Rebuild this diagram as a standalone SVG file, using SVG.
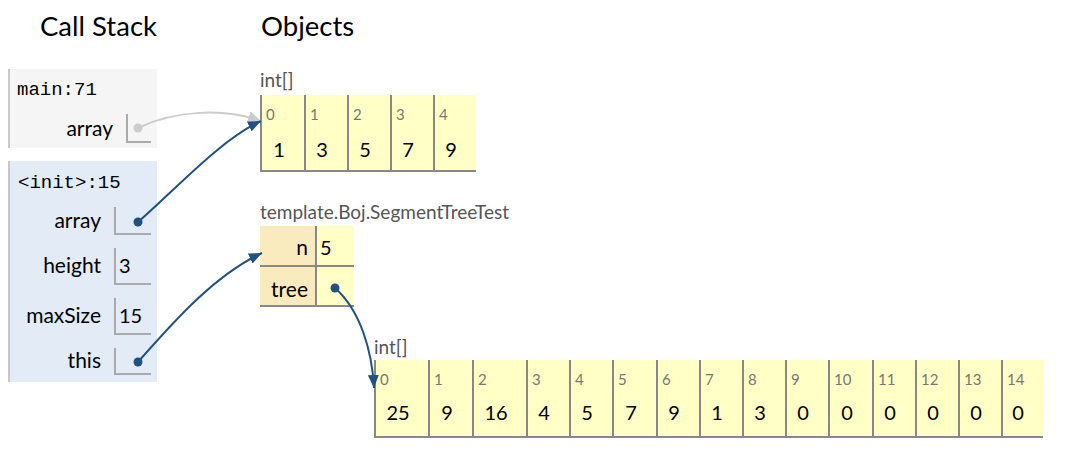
<svg xmlns="http://www.w3.org/2000/svg" width="1078" height="468" viewBox="0 0 1078 468">
<style>
text{font-family:"Source Sans Pro",Lato,"Noto Sans",sans-serif;}
.hdr{font-size:27.5px;fill:#000;}
.mono{font-family:"Liberation Mono","DejaVu Sans Mono",monospace;font-size:19px;fill:#000;}
.var{font-size:21px;fill:#000;text-anchor:end;}
.val{font-size:20px;fill:#000;}
.cval{font-size:20px;fill:#000;text-anchor:middle;}
.idx{font-size:15px;fill:#777;}
.type{font-size:19px;fill:#555;}
.cell{fill:#ffffc6;}
.key{fill:#faebbf;}
.hb{stroke:#888;stroke-width:2;fill:none;}
.sb{stroke:#aaa;stroke-width:2;fill:none;}
.fb{stroke:#bbb;stroke-width:1.5;fill:none;}
.arr{fill:none;stroke:#1f5283;stroke-width:2;}
.arrg{fill:none;stroke:#cccccc;stroke-width:2;}
</style>
<defs>
<marker id="ah" markerUnits="userSpaceOnUse" markerWidth="14" markerHeight="12" refX="13" refY="5.5" orient="auto"><path d="M0,0 L13,5.5 L0,11 z" fill="#1f5283"/></marker>
<marker id="ahg" markerUnits="userSpaceOnUse" markerWidth="14" markerHeight="12" refX="13" refY="5.5" orient="auto"><path d="M0,0 L13,5.5 L0,11 z" fill="#cccccc"/></marker>
</defs>
<rect width="1078" height="468" fill="#ffffff"/>
<text class="hdr" x="40" y="36">Call Stack</text>
<text class="hdr" x="261" y="36">Objects</text>

<g id="frame-main">
<rect x="8" y="69" width="149" height="79" fill="#f5f5f5"/>
<line class="fb" x1="9" y1="69" x2="9" y2="148"/>
<text class="mono" x="17" y="95">main:71</text>
<text class="var" x="113" y="136">array</text>
<path class="sb" d="M127,114 V142 H151"/>
</g>

<g id="frame-init">
<rect x="8" y="161" width="149" height="221" fill="#e2ebf6"/>
<line class="fb" x1="9" y1="161" x2="9" y2="382"/>
<text class="mono" x="18" y="188">&lt;init&gt;:15</text>
<text class="var" x="101" y="228">array</text>
<path class="sb" d="M115,207 V234 H151"/>
<text class="var" x="101" y="273">height</text>
<path class="sb" d="M115,248 V284 H151"/>
<text class="val" x="119" y="273">3</text>
<text class="var" x="101" y="323">maxSize</text>
<path class="sb" d="M115,298 V334 H151"/>
<text class="val" x="119" y="323">15</text>
<text class="var" x="101" y="368">this</text>
<path class="sb" d="M115,348 V374 H151"/>
</g>

<g id="obj-array1">
<text class="type" x="260" y="87">int[]</text>
<rect class="cell" x="261" y="95" width="215" height="77"/>
<path class="hb" d="M261,95 V172 M305,95 V172 M348,95 V172 M391,95 V172 M434,95 V172 M260,171 H476"/>
<text class="idx" x="266" y="120">0</text><text class="cval" x="279" y="157">1</text>
<text class="idx" x="310" y="120">1</text><text class="cval" x="322" y="157">3</text>
<text class="idx" x="353" y="120">2</text><text class="cval" x="365" y="157">5</text>
<text class="idx" x="396" y="120">3</text><text class="cval" x="408" y="157">7</text>
<text class="idx" x="439" y="120">4</text><text class="cval" x="451" y="157">9</text>
</g>

<g id="obj-segtree">
<text class="type" x="260" y="219">template.Boj.SegmentTreeTest</text>
<rect class="key" x="260" y="226" width="56" height="81"/>
<rect class="cell" x="316" y="226" width="38" height="81"/>
<path class="hb" d="M316,226 V307 M260,266 H354 M260,306 H354"/>
<text class="var" x="308" y="255">n</text>
<text class="val" x="320" y="255">5</text>
<text class="var" x="308" y="297">tree</text>
</g>

<g id="obj-array2">
<text class="type" x="374" y="354">int[]</text>
<rect class="cell" x="375" y="360" width="668" height="78"/>
<path class="hb" d="M375,360 V438 M429,360 V438 M473,360 V438 M527,360 V438 M570,360 V438 M613,360 V438 M657,360 V438 M700,360 V438 M743,360 V438 M786,360 V438 M829,360 V438 M873,360 V438 M916,360 V438 M959,360 V438 M1002,360 V438 M374,437 H1043"/>
<text class="idx" x="380" y="385">0</text><text class="cval" x="398" y="420">25</text>
<text class="idx" x="434" y="385">1</text><text class="cval" x="447" y="420">9</text>
<text class="idx" x="478" y="385">2</text><text class="cval" x="496" y="420">16</text>
<text class="idx" x="532" y="385">3</text><text class="cval" x="544" y="420">4</text>
<text class="idx" x="575" y="385">4</text><text class="cval" x="587" y="420">5</text>
<text class="idx" x="618" y="385">5</text><text class="cval" x="631" y="420">7</text>
<text class="idx" x="662" y="385">6</text><text class="cval" x="674" y="420">9</text>
<text class="idx" x="705" y="385">7</text><text class="cval" x="717" y="420">1</text>
<text class="idx" x="748" y="385">8</text><text class="cval" x="760" y="420">3</text>
<text class="idx" x="791" y="385">9</text><text class="cval" x="803" y="420">0</text>
<text class="idx" x="834" y="385">10</text><text class="cval" x="847" y="420">0</text>
<text class="idx" x="878" y="385">11</text><text class="cval" x="890" y="420">0</text>
<text class="idx" x="921" y="385">12</text><text class="cval" x="933" y="420">0</text>
<text class="idx" x="964" y="385">13</text><text class="cval" x="976" y="420">0</text>
<text class="idx" x="1007" y="385">14</text><text class="cval" x="1018" y="420">0</text>
</g>

<g id="connectors">
<circle cx="138" cy="128" r="4.5" fill="#cccccc"/>
<path class="arrg" d="M138,128 C175,110 225,108 261,121" marker-end="url(#ahg)"/>
<circle cx="138" cy="222" r="4.5" fill="#1f5283"/>
<path class="arr" d="M138,222 C175,190 220,140 261,121" marker-end="url(#ah)"/>
<circle cx="138" cy="362" r="4.5" fill="#1f5283"/>
<path class="arr" d="M138,362 C175,320 215,275 262,253" marker-end="url(#ah)"/>
<circle cx="335" cy="288" r="4.5" fill="#1f5283"/>
<path class="arr" d="M335,288 C360,310 372,350 374,388" marker-end="url(#ah)"/>
</g>
</svg>
